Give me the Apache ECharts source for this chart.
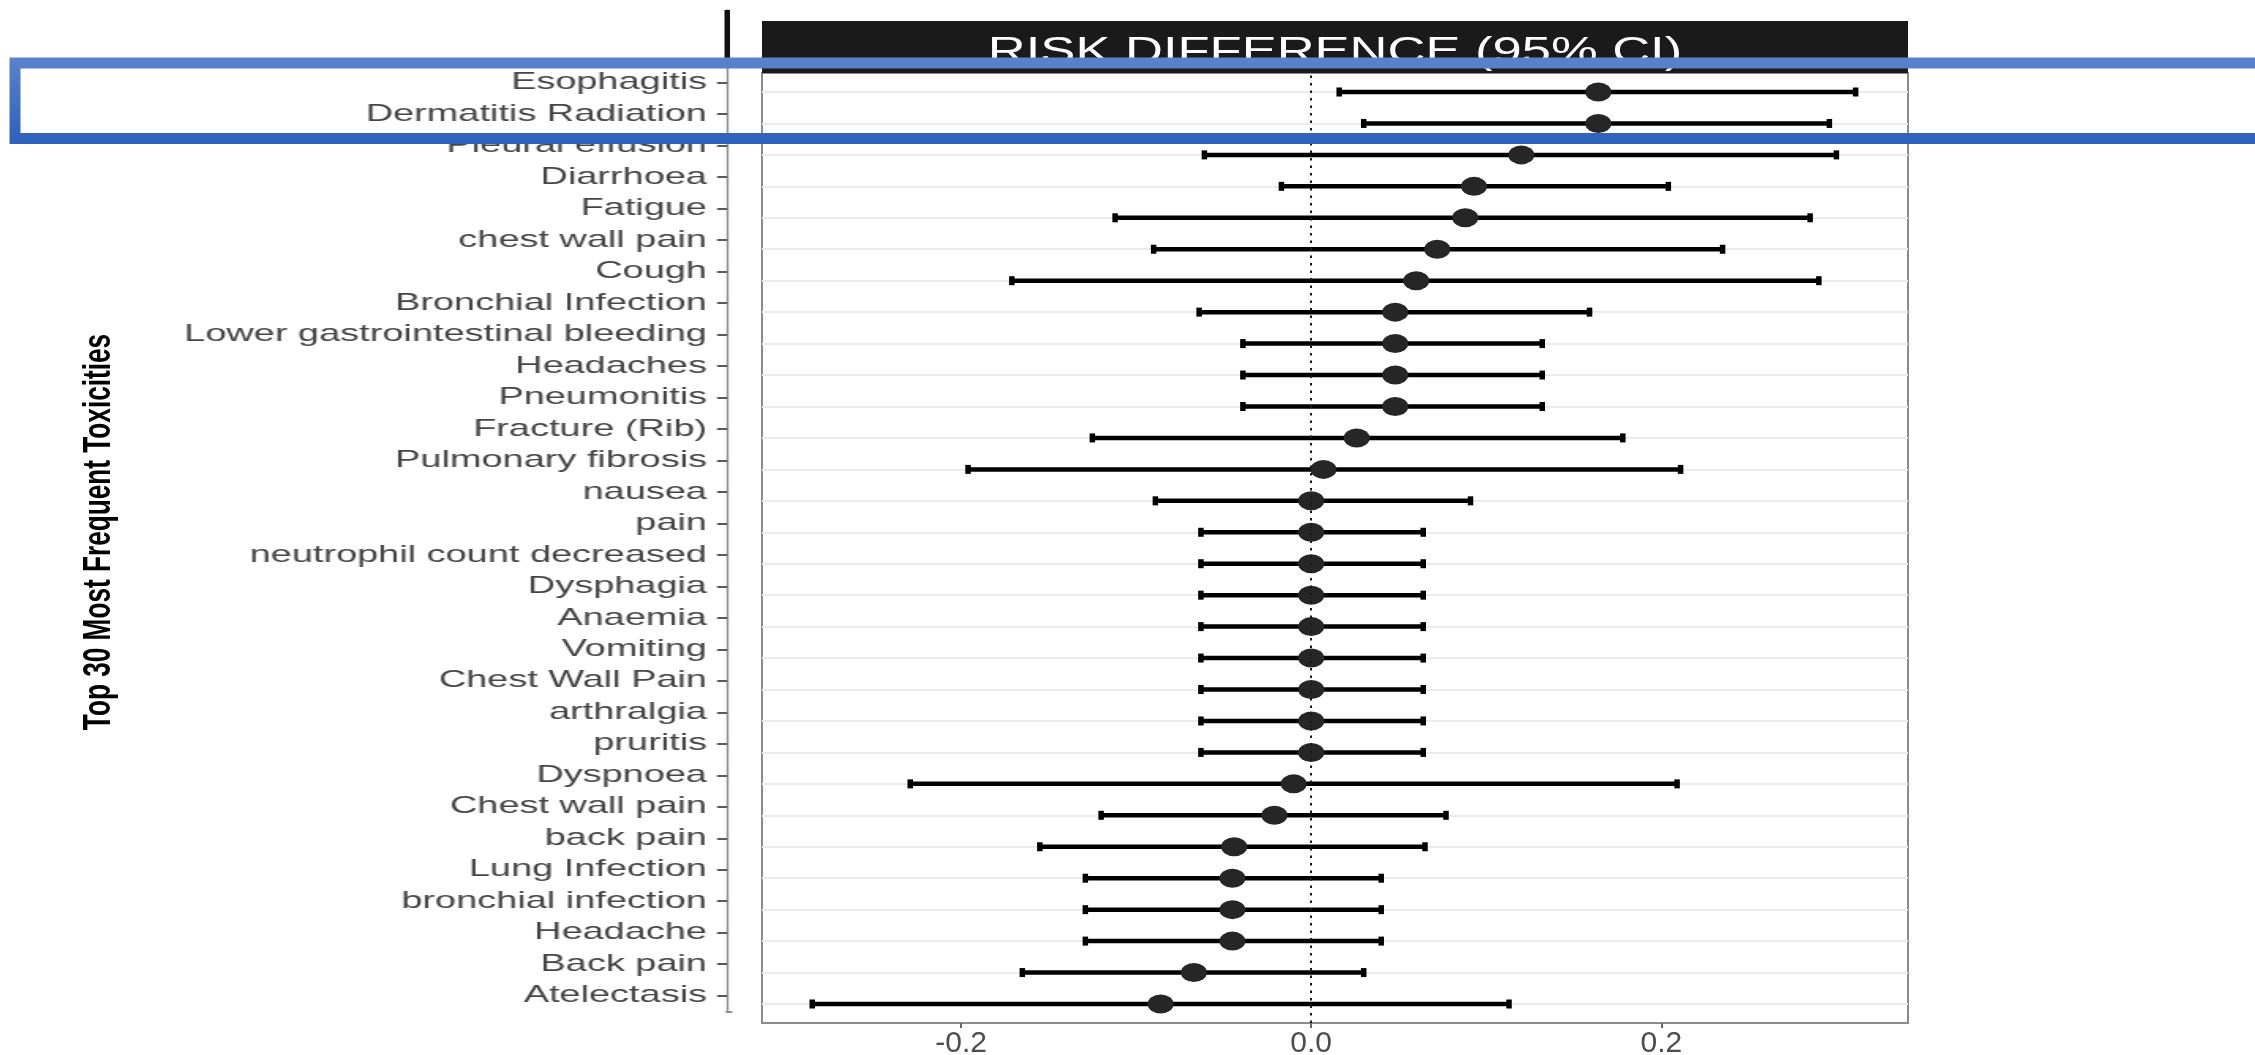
<!DOCTYPE html>
<html>
<head>
<meta charset="utf-8">
<title>Risk difference forest plot</title>
<script src="https://cdn.jsdelivr.net/npm/echarts@6/dist/echarts.min.js"></script>
<style>
  html, body { margin: 0; padding: 0; background: #ffffff; }
  #wrap { position: relative; width: 2255px; height: 1055px; overflow: hidden; background: #fff; }
  /* label panel is drawn narrow and widened horizontally */
  #labels { position: absolute; left: 0; top: 0; width: 470px; height: 1055px;
            transform: scaleX(1.58); transform-origin: 0 0; }
  #main { position: absolute; left: 0; top: 0; width: 2255px; height: 1055px; }
</style>
</head>
<body>
<div id="wrap">
  <div id="labels"></div>
  <div id="main"></div>
</div>
<script>
// Toxicities, ordered top to bottom
const categories = [
  'Esophagitis', 'Dermatitis Radiation', 'Pleural effusion', 'Diarrhoea', 'Fatigue',
  'chest wall pain', 'Cough', 'Bronchial Infection', 'Lower gastrointestinal bleeding',
  'Headaches', 'Pneumonitis', 'Fracture (Rib)', 'Pulmonary fibrosis', 'nausea', 'pain',
  'neutrophil count decreased', 'Dysphagia', 'Anaemia', 'Vomiting', 'Chest Wall Pain',
  'arthralgia', 'pruritis', 'Dyspnoea', 'Chest wall pain', 'back pain', 'Lung Infection',
  'bronchial infection', 'Headache', 'Back pain', 'Atelectasis'
];
// Risk difference point estimates
const estimate = [
  0.164, 0.164, 0.120, 0.093, 0.088, 0.072, 0.060, 0.048, 0.048, 0.048,
  0.048, 0.026, 0.007, 0.000, 0.000, 0.000, 0.000, 0.000, 0.000, 0.000,
  0.000, 0.000, -0.010, -0.021, -0.044, -0.045, -0.045, -0.045, -0.067, -0.086
];
// Lower bound of the 95% CI
const lower = [
  0.016, 0.030, -0.061, -0.017, -0.112, -0.090, -0.171, -0.064, -0.039, -0.039,
  -0.039, -0.125, -0.196, -0.089, -0.063, -0.063, -0.063, -0.063, -0.063, -0.063,
  -0.063, -0.063, -0.229, -0.120, -0.155, -0.129, -0.129, -0.129, -0.165, -0.285
];
// Upper bound of the 95% CI
const upper = [
  0.311, 0.296, 0.300, 0.204, 0.285, 0.235, 0.290, 0.159, 0.132, 0.132,
  0.132, 0.178, 0.211, 0.091, 0.064, 0.064, 0.064, 0.064, 0.064, 0.064,
  0.064, 0.064, 0.209, 0.077, 0.065, 0.040, 0.040, 0.040, 0.030, 0.113
];
// x-axis tick positions
const xTicks = [-0.2, 0, 0.2];
const xMin = -0.3137, xMax = 0.3409;

const stripTitle = 'RISK DIFFERENCE (95% CI)';
const axisTitle = 'Top 30 Most Frequent Toxicities';

// ---------- category labels (drawn at 1/1.58 width, widened by CSS) ----------
const S = 1.58;
const labelChart = echarts.init(document.getElementById('labels'), null, { renderer: 'canvas' });
labelChart.setOption({
  animation: false,
  grid: [
    { left: 727 / S, width: 2.5, top: 10, bottom: 43, outerBoundsMode: 'none' },
    { left: 727 / S, width: 2.5, top: 67, bottom: 43.6, outerBoundsMode: 'none' }
  ],
  xAxis: [
    { gridIndex: 0, type: 'value', min: 0, max: 1,
      axisLine: { show: true, onZero: false, lineStyle: { color: '#8c8c8c', width: 2 } },
      axisTick: { show: false }, axisLabel: { show: false }, splitLine: { show: false } },
    { gridIndex: 1, type: 'value', show: false }
  ],
  yAxis: [
    { gridIndex: 0, type: 'value', min: 0, max: 1,
      axisLine: { show: true, onZero: false, lineStyle: { color: '#8c8c8c', width: 1.3 } },
      axisTick: { show: false }, axisLabel: { show: false }, splitLine: { show: false } },
    { gridIndex: 1, type: 'category', inverse: true, data: categories,
      axisLine: { show: false },
      axisTick: { show: true, alignWithLabel: true, length: 10 / S, interval: 0,
                  lineStyle: { color: '#5a5a5a', width: 2 } },
      axisLabel: { interval: 0, margin: 20 / S, fontSize: 24, color: '#454545',
                   fontFamily: '"Liberation Sans", Arial, sans-serif' },
      splitLine: { show: false } }
  ],
  series: []
});

// ---------- forest panel ----------
const chart = echarts.init(document.getElementById('main'), null, { renderer: 'canvas' });

const barData = categories.map((c, i) => [i, lower[i], upper[i]]);
const pointData = categories.map((c, i) => [estimate[i], i]);

function renderErrorBar(params, api) {
  const idx = api.value(0);
  const a = api.coord([api.value(1), idx]);
  const b = api.coord([api.value(2), idx]);
  const half = 4.5;
  const stroke = '#000000';
  return {
    type: 'group',
    children: [
      { type: 'line', shape: { x1: a[0], y1: a[1], x2: b[0], y2: b[1] },
        style: { stroke: stroke, lineWidth: 4.5 } },
      { type: 'line', shape: { x1: a[0], y1: a[1] - half, x2: a[0], y2: a[1] + half },
        style: { stroke: stroke, lineWidth: 5.5 } },
      { type: 'line', shape: { x1: b[0], y1: b[1] - half, x2: b[0], y2: b[1] + half },
        style: { stroke: stroke, lineWidth: 5.5 } }
    ]
  };
}

chart.setOption({
  animation: false,
  backgroundColor: 'transparent',
  grid: [
    { left: 762, right: 347, top: 73, bottom: 32, show: true,
      borderColor: '#8c8c8c', borderWidth: 2, backgroundColor: 'transparent',
      outerBoundsMode: 'none' },
    { left: 762, right: 347, top: 92, bottom: 51, outerBoundsMode: 'none' }
  ],
  xAxis: [
    { gridIndex: 0, type: 'value', min: xMin, max: xMax,
      axisLine: { show: false },
      axisTick: { show: true, customValues: xTicks, length: 5,
                  lineStyle: { color: '#666666', width: 2 } },
      axisLabel: { customValues: xTicks, formatter: v => v.toFixed(1), margin: 6,
                   fontSize: 30, color: '#4d4d4d',
                   fontFamily: '"Liberation Sans", Arial, sans-serif' },
      splitLine: { show: false } },
    { gridIndex: 1, type: 'value', min: xMin, max: xMax, show: false }
  ],
  yAxis: [
    { gridIndex: 0, type: 'value', min: 0, max: 1, show: false },
    { gridIndex: 1, type: 'category', inverse: true, boundaryGap: false, data: categories,
      axisLine: { show: false }, axisTick: { show: false }, axisLabel: { show: false },
      splitLine: { show: true, interval: 0, lineStyle: { color: '#ebebeb', width: 2 } } }
  ],
  graphic: [
    // facet strip
    { type: 'rect', z: 10, shape: { x: 762, y: 21, width: 1146, height: 52 },
      style: { fill: '#1a1a1a' } },
    { type: 'text', z: 11, x: 1335, y: 52.5, scaleX: 1.4,
      style: { text: stripTitle, fill: '#ffffff', font: '37.5px "Liberation Sans", Arial, sans-serif',
               textAlign: 'center', textVerticalAlign: 'middle' } },
    // y-axis title
    { type: 'text', z: 11, x: 100, y: 532, rotation: Math.PI / 2, scaleY: 1.45,
      style: { text: axisTitle, fill: '#000000',
               font: 'bold 26.2px "Liberation Sans", Arial, sans-serif',
               textAlign: 'center', textVerticalAlign: 'middle' } },
    // heavy top end of the label axis
    { type: 'rect', z: 11, shape: { x: 724.5, y: 10, width: 5.5, height: 52 },
      style: { fill: '#111111' } },
    // highlight frame round the first two rows
    { type: 'rect', z: 100, shape: { x: 15, y: 63, width: 2400, height: 75.5 },
      style: { fill: 'none', lineWidth: 11,
               stroke: new echarts.graphic.LinearGradient(0, 0, 0, 1, [
                 { offset: 0, color: '#5b82cc' },
                 { offset: 1, color: '#2d60b9' }
               ]) } }
  ],
  series: [
    { type: 'line', xAxisIndex: 0, yAxisIndex: 0, data: [], silent: true,
      markLine: { silent: true, symbol: 'none', label: { show: false },
                  lineStyle: { type: [2.5, 5], color: '#1a1a1a', width: 2 },
                  data: [{ xAxis: 0 }] } },
    { type: 'custom', xAxisIndex: 1, yAxisIndex: 1, data: barData,
      encode: { x: [1, 2], y: 0 }, renderItem: renderErrorBar, z: 3 },
    { type: 'scatter', xAxisIndex: 1, yAxisIndex: 1, data: pointData, z: 4,
      symbol: 'path://M0 50A50 50 0 1 1 100 50A50 50 0 1 1 0 50Z',
      symbolSize: [26, 19], itemStyle: { color: '#262626', opacity: 1 } }
  ]
});
</script>
</body>
</html>
